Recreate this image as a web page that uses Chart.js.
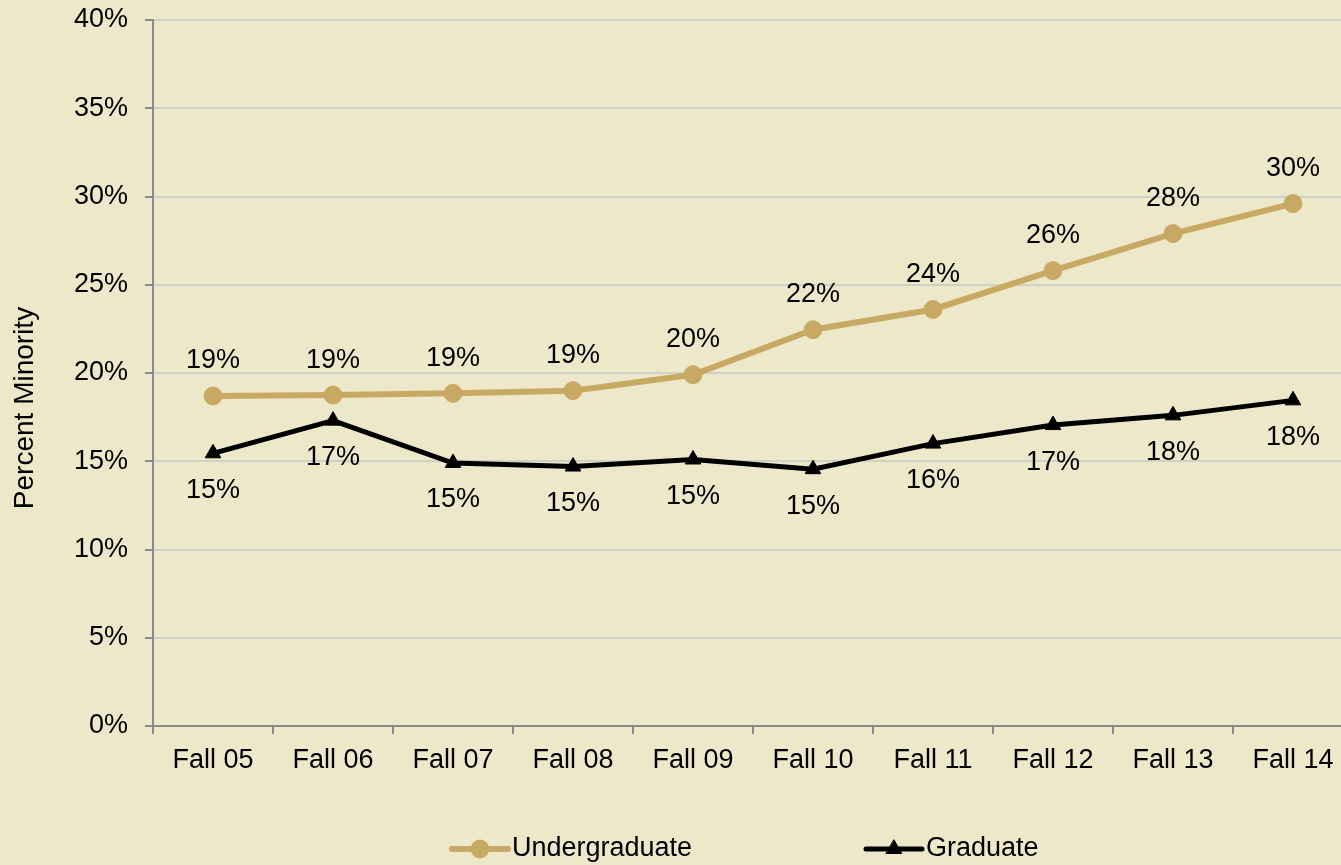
<!DOCTYPE html>
<html>
<head>
<meta charset="utf-8">
<script src="https://cdn.jsdelivr.net/npm/chart.js@4"></script>
<style>
  html, body { margin: 0; padding: 0; background: #EEE8CA; overflow: hidden; }
  #wrap { width: 1365px; height: 865px; }
</style>
</head>
<body>
<div id="wrap"><canvas id="minorityChart" width="1365" height="865"></canvas></div>
<script>
// Chart data
const terms = ['Fall 05', 'Fall 06', 'Fall 07', 'Fall 08', 'Fall 09', 'Fall 10', 'Fall 11', 'Fall 12', 'Fall 13', 'Fall 14'];
const undergraduate = [18.7, 18.75, 18.85, 19.0, 19.9, 22.45, 23.6, 25.8, 27.9, 29.6];
const graduate = [15.45, 17.3, 14.9, 14.7, 15.1, 14.55, 16.0, 17.05, 17.6, 18.45];
const yTicks = [0, 5, 10, 15, 20, 25, 30, 35, 40];

const FONT = 'Liberation Sans, Arial, sans-serif';
const GOLD = '#C8A964';

// Draws the % value next to every point
const pointLabels = {
  id: 'pointLabels',
  afterDatasetsDraw(chart) {
    const ctx = chart.ctx;
    ctx.save();
    ctx.font = '27px ' + FONT;
    ctx.fillStyle = '#000';
    ctx.textAlign = 'center';
    ctx.textBaseline = 'middle';
    chart.data.datasets.forEach((ds, i) => {
      const meta = chart.getDatasetMeta(i);
      const shift = ds.labelShift;
      meta.data.forEach((pt, j) => {
        ctx.fillText(Math.round(ds.data[j]) + '%', pt.x, pt.y + shift);
      });
    });
    ctx.restore();
  }
};

// Axis title and legend, drawn the way the spreadsheet lays them out
const extras = {
  id: 'extras',
  afterDraw(chart) {
    const ctx = chart.ctx;
    ctx.save();
    ctx.fillStyle = '#000';
    ctx.font = '28px ' + FONT;
    ctx.translate(25, 408);
    ctx.rotate(-Math.PI / 2);
    ctx.textAlign = 'center';
    ctx.textBaseline = 'middle';
    ctx.fillText('Percent Minority', 0, 0);
    ctx.restore();

    const items = [
      { ds: chart.data.datasets[0], x: 452 },
      { ds: chart.data.datasets[1], x: 866 }
    ];
    const ly = 849;
    items.forEach(it => {
      ctx.save();
      ctx.strokeStyle = it.ds.borderColor;
      ctx.fillStyle = it.ds.backgroundColor;
      ctx.lineWidth = it.ds.borderWidth;
      ctx.lineCap = 'round';
      ctx.beginPath();
      ctx.moveTo(it.x, ly);
      ctx.lineTo(it.x + 56, ly);
      ctx.stroke();
      ctx.lineWidth = 1;
      Chart.helpers.drawPoint(ctx, {
        pointStyle: it.ds.pointStyle,
        radius: it.ds.pointRadius,
        borderWidth: 1
      }, it.x + 28, ly);
      ctx.fillStyle = '#000';
      ctx.font = '27px ' + FONT;
      ctx.textBaseline = 'middle';
      ctx.fillText(it.ds.label, it.x + 60, ly);
      ctx.restore();
    });
  }
};

new Chart(document.getElementById('minorityChart'), {
  type: 'line',
  data: {
    labels: terms,
    datasets: [
      {
        label: 'Undergraduate',
        data: undergraduate,
        borderColor: GOLD,
        backgroundColor: GOLD,
        borderWidth: 6,
        pointStyle: 'circle',
        pointRadius: 9,
        pointBorderWidth: 1,
        tension: 0,
        labelShift: -35
      },
      {
        label: 'Graduate',
        data: graduate,
        borderColor: '#000',
        backgroundColor: '#000',
        borderWidth: 5,
        pointStyle: 'triangle',
        pointRadius: 9,
        pointBorderWidth: 1,
        tension: 0,
        labelShift: 37
      }
    ]
  },
  options: {
    responsive: false,
    animation: false,
    layout: { padding: { top: 20, right: 12, left: 0, bottom: 0 } },
    plugins: {
      legend: { display: false },
      tooltip: { enabled: false }
    },
    scales: {
      x: {
        offset: true,
        grid: { offset: true, drawOnChartArea: false, drawTicks: true, tickLength: 8, color: '#8A8A8A', lineWidth: 2 },
        border: { color: '#8A8A8A', width: 2 },
        ticks: { color: '#000', font: { family: FONT, size: 27 }, padding: 10, maxRotation: 0 },
        afterFit(scale) { scale.height = 139; scale.paddingLeft = 0; scale.paddingRight = 0; }
      },
      y: {
        min: 0,
        max: 40,
        afterBuildTicks(scale) { scale.ticks = yTicks.map(v => ({ value: v })); },
        grid: { color: '#CFD1C6', lineWidth: 2, tickColor: '#8A8A8A', tickLength: 8 },
        border: { color: '#8A8A8A', width: 2 },
        ticks: { color: '#000', font: { family: FONT, size: 27 }, padding: 17, callback: v => v + '%' },
        afterFit(scale) { scale.width = 153; scale.paddingTop = 0; scale.paddingBottom = 0; }
      }
    }
  },
  plugins: [pointLabels, extras]
});
</script>
</body>
</html>
